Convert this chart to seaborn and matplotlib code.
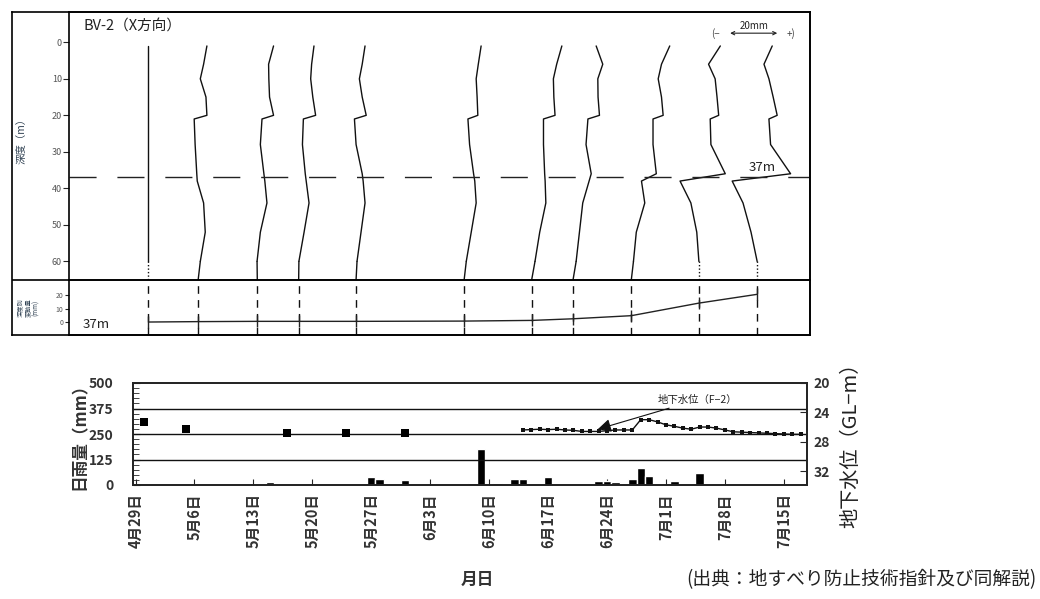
import numpy as np
import pandas as pd
import matplotlib
matplotlib.use("Agg")
import matplotlib.pyplot as plt
import seaborn as sns
from matplotlib.ticker import MultipleLocator

sns.set_theme(style="white")
plt.rcParams['font.family'] = ['Noto Sans CJK JP', 'DejaVu Sans']

# inclinometer BV-2 (X direction): measurement days (days since 4/29)
meas_day = [1.5, 7.4, 14.4, 19.3, 26.1, 38.9, 46.9, 51.8, 58.7, 66.7, 73.6]
depths = [1, 6, 10, 15, 20, 21, 28, 36, 38, 44, 52, 60, 65]
# profile offsets (mm) at each depth
p01 = [0, 0, 0, 0, 0, 0, 0, 0, 0, 0, 0, 0, 0]
p02 = [3.7, 2.3, 0.9, 3.3, 3.7, -1.7, -1.3, -0.6, -0.4, 2.3, 3.0, 0.9, 0]
p03 = [6.9, 4.8, 4.9, 5.2, 6.9, 2.0, 1.3, 2.8, 3.2, 4.1, 1.3, -0.1, 0]
p04 = [6.5, 5.5, 5.1, 6.0, 7.2, 2.0, 1.6, 2.8, 3.2, 4.4, 2.3, 0.1, 0]
p05 = [3.8, 2.6, 1.4, 2.6, 4.3, -0.7, 0.0, 2.6, 3.0, 3.8, 2.1, 0.4, 0]
p06 = [7.2, 6.0, 5.1, 5.5, 5.8, 1.6, 2.3, 4.0, 4.5, 5.1, 3.0, 0.9, 0]
p07 = [12.8, 10.6, 9.2, 9.4, 9.9, 5.0, 5.0, 5.5, 5.7, 6.0, 3.4, 1.4, 0]
p08 = [9.8, 12.6, 10.5, 10.6, 11.2, 6.3, 5.5, 7.7, 6.8, 4.1, 2.7, 1.3, 0]
p09 = [16.3, 12.8, 11.4, 12.8, 13.5, 9.2, 9.2, 10.6, 4.3, 5.7, 2.1, 0.9, 0]
p10 = [9.1, 4.1, 6.9, 7.7, 8.4, 4.8, 5.1, 11.2, -8.0, -3.4, -0.9, 0, 0]
p11 = [6.4, 2.9, 5.0, 6.8, 8.5, 5.0, 5.7, 14.2, -10.6, -6.0, -2.6, 0, 0]
profiles = [p01, p02, p03, p04, p05, p06, p07, p08, p09, p10, p11]
dotted_tail = [0, 9, 10]

# displacement at 37m (mm)
disp_37m = [0, 0.3, 0.5, 0.5, 0.5, 0.7, 1.2, 2.4, 4.7, 14.0, 20.5]

# daily rainfall (mm)
rain_day = [16, 28, 29, 32, 40, 41, 43, 45, 46, 49, 55, 56, 57, 59, 60, 61, 64, 67, 69]
rain_mm = [15, 40, 30, 25, 10, 175, 10, 30, 30, 40, 22, 22, 13, 28, 85, 42, 22, 58, 5]

# groundwater level F-2 (GL-m)
gw_pt_day = [1, 6, 18, 25, 32]
gw_pt_lvl = [25.3, 26.3, 26.8, 26.8, 26.8]
gw_day = list(range(46, 80))
gw_lvl = [26.4, 26.35, 26.3, 26.35, 26.3, 26.4, 26.45, 26.6, 26.6, 26.6,
          26.5, 26.4, 26.4, 26.4, 25.0, 25.0, 25.3, 25.7, 25.9, 26.15,
          26.3, 26.0, 26.0, 26.15, 26.4, 26.65, 26.7, 26.75, 26.8, 26.85,
          26.9, 26.95, 27.0, 27.0]

tick_day = [0, 7, 14, 21, 28, 35, 42, 49, 56, 63, 70, 77]
tick_lbl = ['4月29日', '5月6日', '5月13日', '5月20日', '5月27日', '6月3日',
            '6月10日', '6月17日', '6月24日', '7月1日', '7月8日', '7月15日']

MM = 0.279  # days of x axis per mm of displacement
W, H = 1040, 599


def fbox(l, t, r, b):
    return [l / W, 1 - b / H, (r - l) / W, (b - t) / H]


fig = plt.figure(figsize=(10.4, 5.99), dpi=100)

# outer frame of the inclinometer block
ax_frame = fig.add_axes(fbox(12, 12, 809.5, 335))
ax_frame.set_xticks([])
ax_frame.set_yticks([])
for s in ax_frame.spines.values():
    s.set_color('black')
    s.set_linewidth(1.2)
ax_frame.plot([0, 57 / 797.5], [55 / 323, 55 / 323], transform=ax_frame.transAxes,
              color='black', lw=1.2)

# ---- profiles
ax_top = fig.add_axes(fbox(69, 12, 809.5, 280))
ax_top.patch.set_alpha(0)
rows = []
for i, prof in enumerate(profiles):
    for d, off in zip(depths[:-1], prof[:-1]):
        rows.append({'profile': i, 'depth': d, 'x': meas_day[i] + off * MM})
df = pd.DataFrame(rows)
sns.lineplot(data=df, x='x', y='depth', units='profile', estimator=None, sort=False,
             color='#111111', lw=1.0, ax=ax_top)
for i, prof in enumerate(profiles):
    ls = (0, (1, 1.5)) if i in dotted_tail else '-'
    ax_top.plot([meas_day[i] + prof[-2] * MM, meas_day[i] + prof[-1] * MM],
                depths[-2:], color='#111111', lw=1.0, linestyle=ls)
ax_top.axhline(37, color='#222222', lw=1.0, dashes=(19.5, 15))
ax_top.set_xlim(-7.9, 79.8)
ax_top.set_ylim(65.1, -8.3)
ax_top.set_xticks([])
ax_top.set_yticks(range(0, 61, 10))
ax_top.tick_params(axis='y', left=True, direction='out', length=4, width=0.8,
                   labelsize=6.5, labelcolor='#555555', pad=1)
ax_top.set_xlabel('')
ax_top.set_ylabel('')
for s in ax_top.spines.values():
    s.set_color('black')
    s.set_linewidth(1.2)

ax_top.text(-6.2, -4.7, 'BV-2（X方向）', fontsize=10.5, va='center', ha='left', color='#222222')
x0 = 70.4
ax_top.annotate('', xy=(x0, -2.5), xytext=(x0 + 20 * MM, -2.5),
                arrowprops=dict(arrowstyle='<->', lw=0.8, color='#222222',
                                mutation_scale=6, shrinkA=0, shrinkB=0))
ax_top.text(x0 + 10 * MM, -4.6, '20mm', fontsize=7, ha='center', va='center', color='#222222')
ax_top.text(68.7, -2.5, '(−', fontsize=7, ha='center', va='center', color='#444444')
ax_top.text(77.6, -2.5, '+)', fontsize=7, ha='center', va='center', color='#444444')
ax_top.text(74.2, 34.4, '37m', fontsize=9.5, ha='center', va='center', color='#222222')

fig.text(22 / W, 1 - 138 / H, '深度（m）', rotation=90, fontsize=7.5, color='#334455',
         ha='center', va='center')

# ---- displacement at 37m
ax_mid = fig.add_axes(fbox(69, 280, 809.5, 335))
ax_mid.patch.set_alpha(0)
for d in meas_day:
    ax_mid.axvline(d, color='#111111', lw=1.0, dashes=(5.5, 4.5))
sns.lineplot(x=meas_day, y=disp_37m, color='#222222', lw=1.0, marker='|',
             markersize=8, markeredgewidth=1.0, markeredgecolor='#222222', ax=ax_mid)
ax_mid.set_xlim(-7.9, 79.8)
ax_mid.set_ylim(-9.6, 31.1)
ax_mid.set_xticks([])
ax_mid.set_yticks([0, 10, 20])
ax_mid.tick_params(axis='y', left=True, direction='out', length=3, width=0.8,
                   labelsize=5, labelcolor='#555555', pad=1)
for s in ax_mid.spines.values():
    s.set_color('black')
    s.set_linewidth(1.2)
ax_mid.text(-4.7, -1.5, '37m', fontsize=9.5, ha='center', va='center', color='#222222')
fig.text(28 / W, 1 - 308 / H, '深度別\n変動量\n(mm)', rotation=90, fontsize=4.5,
         linespacing=1.0, color='#334455', ha='center', va='center')

# ---- rainfall and groundwater
ax_rain = fig.add_axes(fbox(133, 383, 807, 485))
sns.barplot(x=rain_day, y=rain_mm, native_scale=True, width=1.0, color='black',
            saturation=1, errorbar=None, ax=ax_rain)
for g in [125, 250, 375]:
    ax_rain.axhline(g, color='#111111', lw=1.0)
ax_rain.set_xlim(-0.3, 79.75)
ax_rain.set_ylim(0, 500)
ax_rain.set_yticks([0, 125, 250, 375, 500])
ax_rain.yaxis.set_minor_locator(MultipleLocator(25))
ax_rain.set_xticks(tick_day)
ax_rain.set_xticklabels(tick_lbl, rotation=90, fontweight='bold', fontsize=10.5, color='#333333')
ax_rain.tick_params(axis='x', bottom=True, direction='in', length=4, width=0.8, pad=6)
ax_rain.tick_params(axis='y', which='major', left=True, direction='in', length=5,
                    width=0.8, labelsize=10, labelcolor='#333333', pad=14)
ax_rain.tick_params(axis='y', which='minor', left=True, direction='in', length=4, width=0.6)
for lbl in ax_rain.get_yticklabels():
    lbl.set_fontweight('bold')
ax_rain.set_xlabel('')
ax_rain.set_ylabel('')
for s in ax_rain.spines.values():
    s.set_color('black')
    s.set_linewidth(1.2)

ax_gw = ax_rain.twinx()
sns.lineplot(x=gw_day, y=gw_lvl, color='#111111', lw=1.0, marker='s', markersize=2.5,
             markeredgewidth=0, ax=ax_gw)
sns.scatterplot(x=gw_pt_day, y=gw_pt_lvl, marker='s', s=28, color='black',
                linewidth=0, ax=ax_gw)
ax_gw.annotate('地下水位（F−2）', xy=(54.9, 26.3), xytext=(62.0, 22.3),
               fontsize=7.5, ha='left', va='center', color='#222222',
               arrowprops=dict(arrowstyle='-|>', color='#111111', lw=0.8,
                               mutation_scale=20, shrinkA=0, shrinkB=0))
ax_gw.set_ylim(33.9, 20.2)
ax_gw.set_yticks([20, 24, 28, 32])
ax_gw.tick_params(axis='y', right=True, direction='in', length=5, width=0.8,
                  labelsize=10, labelcolor='#333333', pad=5)
for lbl in ax_gw.get_yticklabels():
    lbl.set_fontweight('bold')
ax_gw.set_ylabel('')
ax_gw.grid(False)

fig.text(80 / W, 1 - 432 / H, '日雨量（mm）', rotation=90, fontsize=12, fontweight='bold',
         color='#333333', ha='center', va='center')
fig.text(851 / W, 1 - 440 / H, '地下水位（GL−m）', rotation=90, fontsize=14.5,
         color='#222222', ha='center', va='center')
fig.text(477 / W, 1 - 580 / H, '月日', fontsize=12, fontweight='bold', color='#333333',
         ha='center', va='center')
fig.text(1037 / W, 1 - 580 / H, '(出典：地すべり防止技術指針及び同解説)', fontsize=13.5,
         color='#222222', ha='right', va='center')

fig.savefig('out.png', dpi=100)
